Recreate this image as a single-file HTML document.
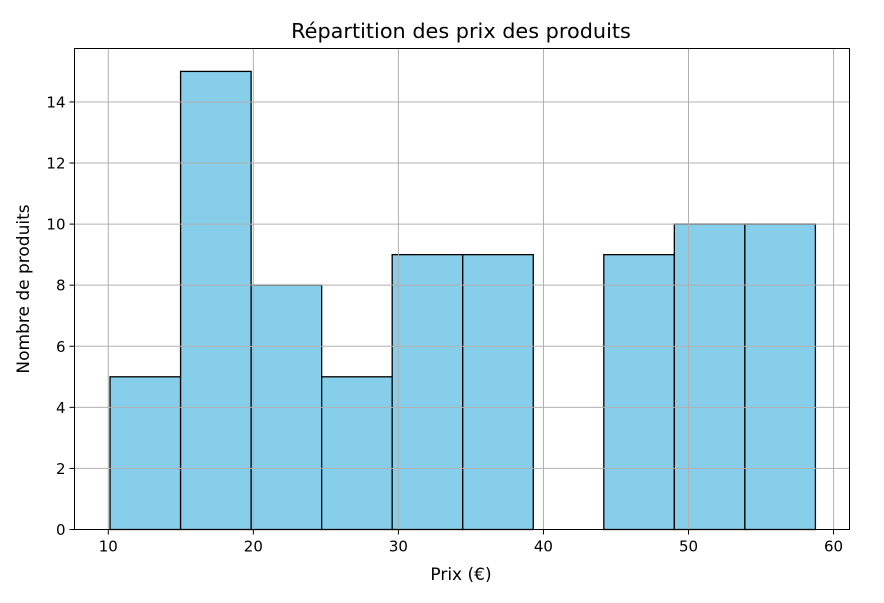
<!DOCTYPE html>
<html><head><meta charset="utf-8"><style>
body{margin:0;background:#fff;font-family:"Liberation Sans","DejaVu Sans",sans-serif;}
svg text{font-family:"DejaVu Sans","Liberation Sans",sans-serif;}
</style></head><body>
<svg id="chart" width="884" height="598" xmlns="http://www.w3.org/2000/svg">
<rect width="884" height="598" fill="#fff"/>
<g id="bars"></g>
<g id="grid"></g>
<rect x="74.5" y="48.5" width="775" height="481" fill="none" stroke="#000" stroke-width="1"/>
<g id="xticks"></g><g id="yticks"></g>
<text x="461" y="38" text-anchor="middle" font-size="20.8">Répartition des prix des produits</text>
<text x="461" y="580" text-anchor="middle" font-size="17">Prix (€)</text>
<text transform="translate(29,289) rotate(-90)" text-anchor="middle" font-size="17">Nombre de produits</text>
</svg>
<script>
const binStart = 10.12;
const binEnd = 58.75;
const counts = [5, 15, 8, 5, 9, 9, 0, 9, 10, 10];
const xTickLabels = [10, 20, 30, 40, 50, 60];
const yTickLabels = [0, 2, 4, 6, 8, 10, 12, 14];
const X0=74.5,X1=849.5,Y0=529.5,Y1=48.5;
const xmin=7.67,xmax=61.1,ymax=15.75;
const sx=v=>X0+(v-xmin)/(xmax-xmin)*(X1-X0);
const sy=v=>Y0-v/ymax*(Y0-Y1);
const NS="http://www.w3.org/2000/svg";
function mk(tag,attrs,parent){const e=document.createElementNS(NS,tag);for(const k in attrs)e.setAttribute(k,attrs[k]);parent.appendChild(e);return e;}
const bars=document.getElementById('bars'),grid=document.getElementById('grid'),xt=document.getElementById('xticks'),yt=document.getElementById('yticks');
const w=(binEnd-binStart)/counts.length;
counts.forEach((c,i)=>{
  const a=sx(binStart+i*w),b=sx(binStart+(i+1)*w);
  const r=mk('rect',{x:a,y:sy(c),width:b-a,height:sy(0)-sy(c),fill:'#87ceeb',stroke:'#000','stroke-width':1.3},bars);
  
  
});
xTickLabels.forEach(v=>{
  const x=sx(v);
  const g=mk('line',{x1:x,x2:x,y1:Y1,y2:Y0,stroke:'#b0b0b0','stroke-width':1},grid);
  
  
  mk('line',{x1:x,x2:x,y1:Y0,y2:Y0+5,stroke:'#000'},xt);
  const t=mk('text',{x:x,y:Y0+22,'text-anchor':'middle','font-size':15},xt);t.textContent=v;
  
  
});
yTickLabels.forEach(v=>{
  const y=sy(v);
  const g=mk('line',{x1:X0,x2:X1,y1:y,y2:y,stroke:'#b0b0b0','stroke-width':1},grid);
  
  
  mk('line',{x1:X0-5,x2:X0,y1:y,y2:y,stroke:'#000'},yt);
  const t=mk('text',{x:X0-9,y:y+5.5,'text-anchor':'end','font-size':15},yt);t.textContent=v;
  
  
});
</script>
</body></html>
